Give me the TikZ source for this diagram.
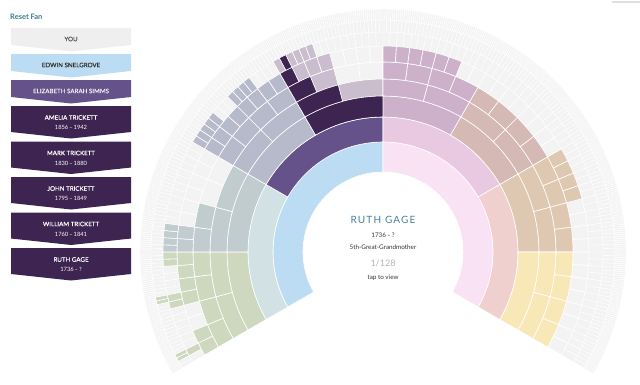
\documentclass[tikz,border=0pt]{standalone}
\usepackage{fontspec}
\setmainfont{Lato}
\usepackage{tikz}
\usetikzlibrary{calc}

% fan colours
\definecolor{fanGray}{HTML}{F3F3F3}
\definecolor{selfBlue}{HTML}{BCDCF3}
\definecolor{selfPink}{HTML}{F8E2F3}
\definecolor{genTeal}{HTML}{D2E2E4}
\definecolor{genPurple}{HTML}{66528A}
\definecolor{genLilac}{HTML}{E9C8E1}
\definecolor{genSalmon}{HTML}{F0CFCF}
\definecolor{fam0}{HTML}{CDD8BE}
\definecolor{fam1}{HTML}{C1CCCE}
\definecolor{fam2}{HTML}{B7BACB}
\definecolor{fam3}{HTML}{CABDCD}
\definecolor{fam4}{HTML}{CDB1CB}
\definecolor{fam5}{HTML}{D5B9B4}
\definecolor{fam6}{HTML}{DFC8B1}
\definecolor{fam7}{HTML}{F8E8B8}
\definecolor{pathDark}{HTML}{3D2451}
% panel and text colours
\definecolor{panelGray}{HTML}{EFEFEF}
\definecolor{resetTeal}{HTML}{3B7D8E}
\definecolor{nameBlue}{HTML}{46819F}
\definecolor{inkDark}{HTML}{333333}
\definecolor{countGray}{HTML}{B3B3B3}

\def\segline{0.6}

\tikzset{
  fanseg/.style={fill=#1, draw=white, line width=\segline},
  chevron/.style={fill=#1},
  paneltext/.style={font=\fontsize{6.2}{7}\selectfont\addfontfeature{FakeBold=0.3}, text=#1, inner sep=0pt},
  datetext/.style={font=\fontsize{5.8}{7}\selectfont, text=#1, inner sep=0pt},
  centretext/.style={font=\fontsize{6.3}{8}\selectfont, text=inkDark, inner sep=0pt}
}

% one cell of the fan: colour, generation, index from the left
\newcommand{\fancell}[3]{%
  \pgfmathsetmacro\cw{240/2^#2}%
  \pgfmathsetmacro\ca{210-#3*\cw}%
  \pgfmathsetmacro\cb{\ca-\cw}%
  \pgfmathtruncatemacro\gi{#2-1}%
  \pgfmathsetmacro\ri{{80,110,135,156,173,190,206,220,232,243}[\gi]}%
  \pgfmathsetmacro\ro{{80,110,135,156,173,190,206,220,232,243}[#2]}%
  \filldraw[fanseg=#1] (\ca:\ri) arc[start angle=\ca, end angle=\cb, radius=\ri]
    -- (\cb:\ro) arc[start angle=\cb, end angle=\ca, radius=\ro] -- cycle;}

\begin{document}
\begin{tikzpicture}[x=1pt, y=-1pt]

    \useasboundingbox (0,0) rectangle (640,384);

    % ==========================================
    % FAN OF ANCESTORS
    % ==========================================

    \begin{scope}[shift={(383,252)}, y=1pt]

    % Empty fan, nine generations (finer lines further out)
    \foreach \g in {1,...,9}{
        \pgfmathtruncatemacro\last{2^\g-1}
        \pgfmathsetmacro\segline{\g>6 ? 0.4 : 0.6}
        \foreach \k in {0,...,\last}{\fancell{fanGray}{\g}{\k}}
    }

    % Parents and grandparents
    \fancell{selfBlue}{1}{0}
    \fancell{selfPink}{1}{1}
    \fancell{genTeal}{2}{0}
    \fancell{genPurple}{2}{1}
    \fancell{genLilac}{2}{2}
    \fancell{genSalmon}{2}{3}

    % Known ancestors, coloured by great-grandparent branch
    \foreach \g/\i/\j in {3/0/7, 4/0/15,
                          5/0/5, 5/8/13, 5/16/31,
                          6/0/1, 6/4/9, 6/16/27, 6/32/37, 6/48/51,
                          7/1/1, 7/8/9, 7/14/19, 7/32/36, 7/40/43, 7/48/53,
                          8/2/3, 8/18/19}{
        \foreach \k in {\i,...,\j}{
            \pgfmathtruncatemacro\fam{floor(\k/2^(\g-3))}
            \fancell{fam\fam}{\g}{\k}
        }
    }

    % Line down to the selected ancestor
    \foreach \g/\k in {3/3, 4/6, 5/12, 6/24, 7/49}{\fancell{pathDark}{\g}{\k}}

    \end{scope}

    % ==========================================
    % CENTRE TEXT
    % ==========================================

    \node[font=\fontsize{10}{12}\selectfont\addfontfeature{LetterSpace=12}, text=nameBlue, inner sep=0pt]
        (centreName) at (383,220) {RUTH GAGE};
    \node[centretext] (centreDates) at (383,235.5) {1736\,–\,?};
    \node[centretext] (centreRel) at (383,247.5) {5th-Great-Grandmother};
    \node[font=\fontsize{9}{10}\selectfont, text=countGray, inner sep=0pt] (centreCount) at (383,263) {1/128};
    \node[centretext] (centreTap) at (383,278) {tap to view};

    % ==========================================
    % LEFT PANEL
    % ==========================================

    \node[font=\fontsize{7.5}{9}\selectfont\bfseries, text=resetTeal, anchor=west, inner sep=0pt]
        (reset) at (10,17) {Reset Fan};

    % Chevrons: colour / top / height
    \foreach \c/\t/\h in {panelGray/28/17, selfBlue/54/17, genPurple/80/17,
                          pathDark/106/26, pathDark/141.5/26, pathDark/177/26,
                          pathDark/212.5/26, pathDark/248/26}{
        \fill[chevron=\c] (11,\t) -- (131,\t) -- (131,\t+\h) -- (71,\t+\h+6.5) -- (11,\t+\h) -- cycle;
    }

    \node[paneltext=inkDark!85] (you) at (71,39) {YOU};
    \node[paneltext=inkDark] (edwin) at (71,65) {EDWIN SNELGROVE};
    \node[paneltext=white!88!genPurple] (elizabeth) at (71,91) {ELIZABETH SARAH SIMMS};
    \node[paneltext=white] (amelia) at (71,117.5) {AMELIA TRICKETT};
    \node[datetext=white] (ameliaDates) at (71,127.5) {1856\,–\,1942};
    \node[paneltext=white] (mark) at (71,153) {MARK TRICKETT};
    \node[datetext=white] (markDates) at (71,163) {1830\,–\,1880};
    \node[paneltext=white] (john) at (71,188.5) {JOHN TRICKETT};
    \node[datetext=white] (johnDates) at (71,198.5) {1795\,–\,1849};
    \node[paneltext=white] (william) at (71,224) {WILLIAM TRICKETT};
    \node[datetext=white] (williamDates) at (71,234) {1760\,–\,1841};
    \node[paneltext=white] (ruth) at (71,259.5) {RUTH GAGE};
    \node[datetext=white] (ruthDates) at (71,269.5) {1736\,–\,?};

    % scroll mark, top right
    \fill[black!12] (612,1) rectangle (640,3);

\end{tikzpicture}
\end{document}
